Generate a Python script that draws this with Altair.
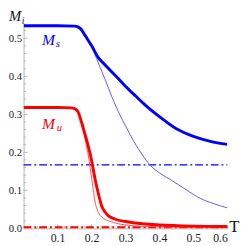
import altair as alt
import pandas as pd

# ---- data ----
ms_T = [0, 0.05, 0.10, 0.15, 0.16, 0.17, 0.18, 0.19, 0.20, 0.22, 0.24, 0.26, 0.28, 0.30, 0.33, 0.36, 0.40, 0.45, 0.50, 0.55, 0.60]
ms_M = [0.533, 0.533, 0.533, 0.532, 0.530, 0.523, 0.509, 0.495, 0.481, 0.449, 0.430, 0.411, 0.393, 0.374, 0.348, 0.323, 0.294, 0.262, 0.242, 0.229, 0.221]

ms2_T = [0.16, 0.17, 0.18, 0.19, 0.20, 0.21, 0.22, 0.24, 0.26, 0.28, 0.30, 0.325, 0.35, 0.375, 0.40, 0.44, 0.48, 0.52, 0.56, 0.60]
ms2_M = [0.530, 0.522, 0.507, 0.493, 0.478, 0.458, 0.435, 0.392, 0.346, 0.305, 0.270, 0.228, 0.193, 0.164, 0.146, 0.124, 0.101, 0.079, 0.065, 0.054]

mu_T = [0, 0.05, 0.10, 0.14, 0.15, 0.16, 0.17, 0.18, 0.19, 0.20, 0.21, 0.22, 0.23, 0.24, 0.25, 0.27, 0.30, 0.35, 0.40, 0.50, 0.60]
mu_M = [0.318, 0.318, 0.318, 0.317, 0.315, 0.307, 0.281, 0.250, 0.218, 0.180, 0.132, 0.092, 0.059, 0.043, 0.033, 0.024, 0.018, 0.012, 0.009, 0.006, 0.005]

mu2_T = [0.15, 0.16, 0.17, 0.18, 0.19, 0.20, 0.21, 0.22, 0.23, 0.25, 0.28, 0.31, 0.35, 0.40, 0.50, 0.60]
mu2_M = [0.315, 0.305, 0.278, 0.240, 0.195, 0.135, 0.072, 0.042, 0.030, 0.020, 0.012, 0.008, 0.005, 0.004, 0.003, 0.003]

ref_blue = 0.167
ref_red = 0.003

x_ticks = [0.1, 0.2, 0.3, 0.4, 0.5, 0.6]
y_ticks = [0.0, 0.1, 0.2, 0.3, 0.4, 0.5]
x_minor = [round(i * 0.02, 2) for i in range(1, 31) if i % 5 != 0]
y_minor = [round(i * 0.02, 2) for i in range(1, 27) if i % 5 != 0]

W, H = 209, 211
xs = alt.Scale(domain=[0, 0.6], nice=False, zero=False)
ys = alt.Scale(domain=[0, 0.541], nice=False, zero=False)
AX = "#b4b4b4"
SERIF = "Liberation Serif"

def curve(T, M, color, width):
    df = pd.DataFrame({"T": T, "M": M})
    return alt.Chart(df).mark_line(color=color, strokeWidth=width, interpolate="monotone", clip=True).encode(
        x=alt.X("T:Q", scale=xs,
                axis=alt.Axis(values=x_ticks, format=".1f", ticks=False, grid=False, domainColor=AX,
                              labelFont=SERIF, labelFontSize=12, labelColor="#222", labelPadding=4, title=None)),
        y=alt.Y("M:Q", scale=ys,
                axis=alt.Axis(values=y_ticks, format=".1f", ticks=False, grid=False, domainColor=AX,
                              labelFont=SERIF, labelFontSize=11, labelColor="#222", labelPadding=2, title=None)),
    )

def hline(v, color, width, dash):
    df = pd.DataFrame({"M": [v]})
    return alt.Chart(df).mark_rule(color=color, strokeWidth=width, strokeDash=dash).encode(
        y=alt.Y("M:Q", scale=ys), x=alt.value(0), x2=alt.value(W))

def yt(vals, length):
    return alt.Chart(pd.DataFrame({"M": vals})).mark_rule(color=AX, strokeWidth=1).encode(
        y=alt.Y("M:Q", scale=ys), x=alt.value(0), x2=alt.value(length))

def xt(vals, length):
    return alt.Chart(pd.DataFrame({"T": vals})).mark_rule(color=AX, strokeWidth=1).encode(
        x=alt.X("T:Q", scale=xs), y=alt.value(H), y2=alt.value(H - length))

def txt(s, x, y, size, color, style="italic"):
    return alt.Chart(pd.DataFrame({"s": [s]})).mark_text(
        font=SERIF, fontSize=size, fontStyle=style, color=color, align="left", baseline="alphabetic").encode(
        text="s:N", x=alt.value(x), y=alt.value(y))

layers = [
    yt(y_ticks[1:], 4), yt(y_minor, 2.5), xt(x_ticks, 4), xt(x_minor, 2.5),
    hline(ref_blue, "#0000ff", 1.5, [8, 3, 2, 3]),
    hline(ref_red, "#ff0000", 2, [8, 3, 2, 3]),
    curve(ms2_T, ms2_M, "#5a5aff", 1),
    curve(mu2_T, mu2_M, "#ff5050", 1),
    curve(ms_T, ms_M, "#0000ff", 3),
    curve(mu_T, mu_M, "#ff0000", 3),
    txt("M", -15, -2, 15, "#111"),
    txt("i", -2, 1, 10, "#111"),
    txt("M", 19, 23, 16, "#0000ff"),
    txt("s", 33, 25, 11, "#0000ff"),
    txt("M", 19, 109, 16, "#ff0000"),
    txt("u", 34, 111, 11, "#ff0000"),
    txt("T", 211, 215, 17, "#111", "normal"),
]

chart = alt.layer(*layers).properties(
    width=W, height=H,
    autosize=alt.AutoSizeParams(type="none"),
    padding={"left": 16, "top": 12, "right": 14, "bottom": 14},
).configure_view(stroke=None)

chart.save("out.html", embed_options={"renderer": "svg", "actions": False})
